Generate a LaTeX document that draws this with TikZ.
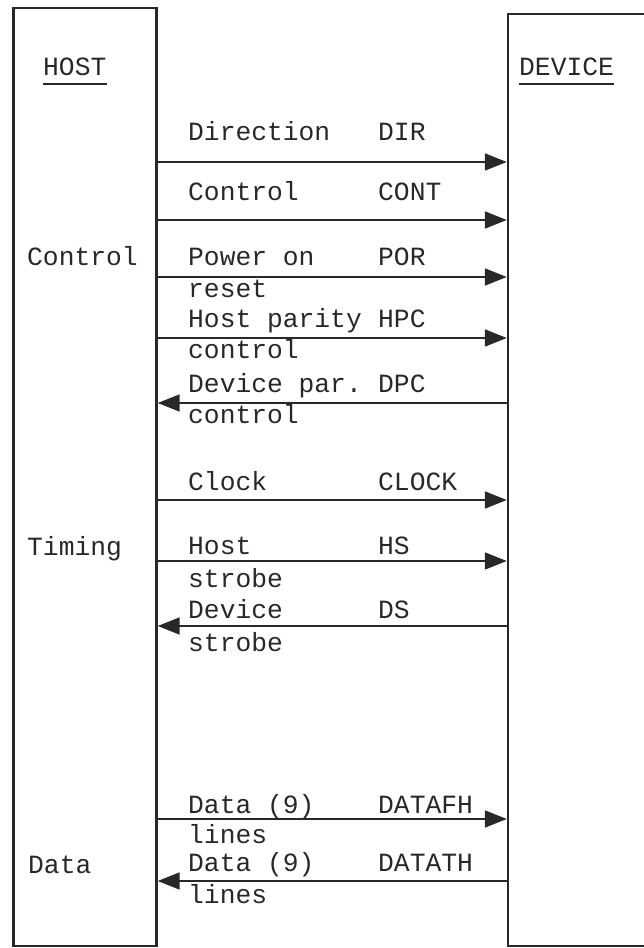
\documentclass[tikz,border=0pt]{standalone}
\usepackage{fontspec}
\setmonofont{Liberation Mono}
\usetikzlibrary{arrows.meta,positioning,calc}
\definecolor{inkc}{RGB}{40,40,40}
\tikzset{
  box/.style={draw=inkc,line width=2.4pt,inner sep=0pt},
  txt/.style={font=\ttfamily\fontsize{26.3}{30}\selectfont,text=inkc,
              inner sep=0pt,anchor=base west},
  sig/.style={draw=inkc,line width=1.8pt},
  sigr/.style={sig,-{Triangle[length=22pt,width=17pt]}},
  sigl/.style={sig,{Triangle[length=22pt,width=17pt]}-},
  uline/.style={draw=inkc,line width=1.8pt}
}

\begin{document}
\begin{tikzpicture}[x=1pt,y=-1pt]
\useasboundingbox (0,0) rectangle (644,948);

\node[box,minimum width=143pt,minimum height=938pt] (host) at (85,477) {};
\node[box,minimum width=160pt,minimum height=932pt] (device) at (588,480) {};

\node[txt] (hosttl) at (43,75) {HOST};
\node[txt] (devtl) at (519,75) {DEVICE};
\draw[uline] ($(hosttl.base west)+(0,9)$) -- ($(hosttl.base east)+(0,9)$);
\draw[uline] ($(devtl.base west)+(0,9)$) -- ($(devtl.base east)+(0,9)$);

\node[txt] (grpctl) at (27,265) {Control};
\node[txt] (grptim) at (27,555) {Timing};
\node[txt] (grpdat) at (28,873) {Data};

\foreach \a/\b/\c/\nm/\cd/\lo/\dir [count=\i] in {
  162/140/0/Direction/DIR//sigr,
  220/200/0/Control/CONT//sigr,
  277/265/297/Power on/POR/reset/sigr,
  338/327/358/Host parity/HPC/control/sigr,
  403/392/423/Device par./DPC/control/sigl,
  500/490/0/Clock/CLOCK//sigr,
  561/554/587/Host/HS/strobe/sigr,
  626/618/651/Device/DS/strobe/sigl,
  819/813/843/Data (9)/DATAFH/lines/sigr,
  881/871/903/Data (9)/DATATH/lines/sigl}
{
  \node[txt] (nm\i) at (188,\b) {\nm};
  \node[txt] (cd\i) at (378,\b) {\cd};
  \ifx\lo\empty\else
    \node[txt] (lo\i) at (188,\c) {\lo};
  \fi
  \draw[\dir] (host.east |- 0,\a) -- (device.west |- 0,\a);
}
\end{tikzpicture}
\end{document}
